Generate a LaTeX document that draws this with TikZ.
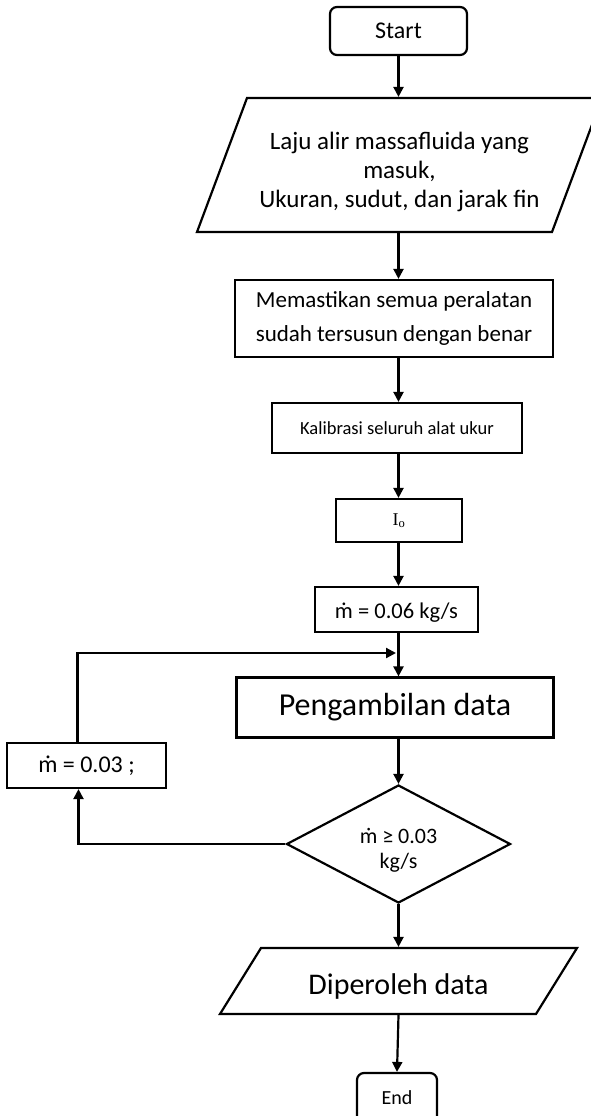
\documentclass[tikz,border=0pt]{standalone}
\usepackage{fontspec}
\setmainfont{Carlito}
\newfontfamily\tnr{Liberation Serif}
\usetikzlibrary{arrows.meta,shapes.geometric}
\begin{document}
\begin{tikzpicture}[x=1pt,y=-1pt,line width=2.2pt,line join=miter,
  box/.style={draw,rectangle,inner sep=2pt,align=center},
  term/.style={box,rounded corners=7pt},
  iotext/.style={rectangle,inner sep=0pt,align=center},
  dec/.style={draw,diamond,inner sep=0pt,align=center},
  arr/.style={-{Triangle[length=10pt,width=10pt]}}]
\useasboundingbox (0,0) rectangle (591,1116);
\clip (0,0) rectangle (591,1116);

\node[term,minimum width=137pt,minimum height=48pt,font=\fontsize{24}{28}\selectfont] (start) at (398.5,31) {Start};
% input parallelogram
\draw (197,232) -- (247,98) -- (602,98) -- (552,232) -- cycle;
\node[iotext,minimum width=300pt,minimum height=134pt,
  label={[align=center,font=\fontsize{25}{29}\selectfont,yshift=-7pt]center:{Laju alir massafluida yang\\masuk,\\Ukuran, sudut, dan jarak fin}}] (in) at (399.5,165) {};
\node[box,minimum width=318pt,minimum height=77pt,font=\fontsize{23}{34}\selectfont] (chk) at (394,318.5) {Memastikan semua peralatan\\sudah tersusun dengan benar};
\node[box,minimum width=250pt,minimum height=50pt,font=\fontsize{18.5}{22}\selectfont] (cal) at (397,428) {Kalibrasi seluruh alat ukur};
\node[box,minimum width=126pt,minimum height=43pt,font=\tnr\fontsize{18}{20}\selectfont] (io0) at (399,520.5) {I\textsubscript{o}};
\node[box,minimum width=163pt,minimum height=45pt,
  label={[font=\fontsize{22.5}{26}\selectfont,yshift=-3pt]center:{ṁ = 0.06 kg/s}}] (m06) at (396.5,609.5) {};
\coordinate (merge) at (396,653);
\node[box,minimum width=317pt,minimum height=60pt,font=\fontsize{32}{36}\selectfont] (take) at (395,707.5) {Pengambilan data};
\node[dec,minimum width=224pt,minimum height=118pt,
  label={[align=center,font=\fontsize{22}{25}\selectfont,yshift=-6pt]center:{ṁ ≥ 0.03\\kg/s}}] (cond) at (398.5,844) {};
\node[box,minimum width=159pt,minimum height=45pt,font=\fontsize{24}{28}\selectfont] (m03) at (86.5,765.5) {ṁ = 0.03 ;};
% output parallelogram
\draw (220,1014) -- (261,948) -- (577,948) -- (536,1014) -- cycle;
\node[iotext,minimum width=250pt,minimum height=66pt,
  label={[font=\fontsize{30}{34}\selectfont,yshift=-5pt]center:{Diperoleh data}}] (out) at (398.5,981) {};
\node[term,minimum width=80pt,minimum height=50pt,font=\fontsize{20}{24}\selectfont] (end) at (397,1098) {End};

\draw[arr] (start.south) -- (start.south |- in.north);
\draw[arr] (start.south |- in.south) -- (start.south |- chk.north);
\draw[arr] (start.south |- chk.south) -- (start.south |- cal.north);
\draw[arr] (start.south |- cal.south) -- (start.south |- io0.north);
\draw[arr] (start.south |- io0.south) -- (start.south |- m06.north);
\draw[arr] (start.south |- m06.south) -- (start.south |- take.north);
\draw[arr] ([xshift=-9pt]m03.north) |- (merge);
\draw[arr] (start.south |- take.south) -- (cond.north);
\draw[arr] (cond.west) -| ([xshift=-8pt]m03.south);
\draw[arr] (cond.south) -- (cond.south |- out.north);
\draw[arr] (cond.south |- out.south) -- (end.north);
\end{tikzpicture}
\end{document}
